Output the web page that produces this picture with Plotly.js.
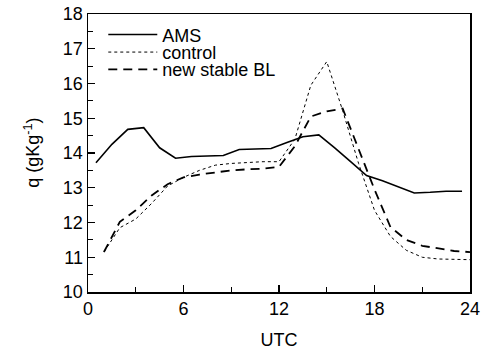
<!DOCTYPE html>
<html>
<head>
<meta charset="utf-8">
<script src="https://cdn.plot.ly/plotly-3.0.1.min.js"></script>
<style>html,body{margin:0;padding:0;background:#fff;}#chart{width:481px;height:350px;}</style>
</head>
<body>
<div id="chart"></div>
<script>
// AMS observations (half-hour points)
const amsX = [0.5,1.5,2.5,3.5,4.5,5.5,6.5,7.5,8.5,9.5,10.5,11.5,12.5,13.5,14.5,15.5,16.5,17.5,18.5,19.5,20.5,21.5,22.5,23.5];
const amsY = [13.72,14.25,14.68,14.73,14.15,13.85,13.9,13.92,13.93,14.1,14.12,14.13,14.3,14.47,14.52,14.15,13.75,13.35,13.2,13.02,12.85,12.87,12.9,12.9];
// model runs (hourly points)
const runX = [1,2,3,4,5,6,7,8,9,10,11,12,13,14,15,16,17,18,19,20,21,22,23,24];
const controlY = [11.15,11.85,12.1,12.55,13.05,13.3,13.5,13.65,13.7,13.73,13.75,13.75,14.4,15.95,16.63,15.22,13.7,12.35,11.6,11.2,11.0,10.95,10.93,10.93];
const stableY = [11.15,12.02,12.35,12.78,13.1,13.3,13.38,13.45,13.5,13.53,13.55,13.6,14.2,15.05,15.2,15.28,14.1,12.95,11.87,11.5,11.33,11.25,11.18,11.15];
const names = ['AMS','control','new stable BL'];
const xTicks = [0,6,12,18,24];
const yTicks = [10,11,12,13,14,15,16,17,18];
const yTitle = 'q (gKg<sup>-1</sup>)';

const traces = [
  {x: amsX, y: amsY, name: names[0], mode:'lines', legend:'legend', line:{color:'#000', width:1.6, dash:'solid'}},
  {x: runX, y: controlY, name: names[1], mode:'lines', legend:'legend2', line:{color:'#000', width:1, dash:'dot'}},
  {x: runX, y: stableY, name: names[2], mode:'lines', legend:'legend3', line:{color:'#000', width:1.8, dash:'9px,6px'}}
];

const fontFam = 'Liberation Sans, Arial, sans-serif';
function leg(yv){
  return {x:0.04, y:yv, xanchor:'left', yanchor:'middle', bgcolor:'rgba(0,0,0,0)', borderwidth:0,
          font:{family:fontFam, size:18, color:'#000'}, itemwidth:49};
}
const layout = {
  width:481, height:350,
  margin:{l:88, r:11, t:14, b:58},
  paper_bgcolor:'#fff', plot_bgcolor:'#fff',
  showlegend:true,
  legend: leg(0.925),
  legend2: leg(0.862),
  legend3: leg(0.800),
  annotations:[{text:yTitle, xref:'paper', yref:'paper', x:-0.147, y:0.5, xanchor:'center', yanchor:'middle',
                textangle:-90, showarrow:false, font:{family:fontFam, size:18, color:'#000'}}],
  xaxis:{range:[0,24], tickvals:xTicks, ticktext:xTicks.map(String), ticks:'inside', ticklen:7, tickwidth:1.2,
         showline:true, linecolor:'#000', linewidth:1.5, mirror:true, showgrid:false, zeroline:false,
         minor:{dtick:3, tick0:0, ticks:'inside', ticklen:5, tickwidth:1, tickcolor:'#000', showgrid:false},
         tickcolor:'#000', tickfont:{family:fontFam, size:18, color:'#000'},
         title:{text:'UTC', font:{family:fontFam, size:18, color:'#000'}, standoff:22}},
  yaxis:{range:[10,18], tickvals:yTicks, ticktext:yTicks.map(String), ticks:'inside', ticklen:7, tickwidth:1.2,
         showline:true, linecolor:'#000', linewidth:1.5, mirror:true, showgrid:false, zeroline:false,
         minor:{dtick:0.5, tick0:10, ticks:'inside', ticklen:5, tickwidth:1, tickcolor:'#000', showgrid:false},
         tickcolor:'#000', tickfont:{family:fontFam, size:18, color:'#000'}}
};
Plotly.newPlot('chart', traces, layout, {displayModeBar:false, staticPlot:true});
</script>
</body>
</html>
